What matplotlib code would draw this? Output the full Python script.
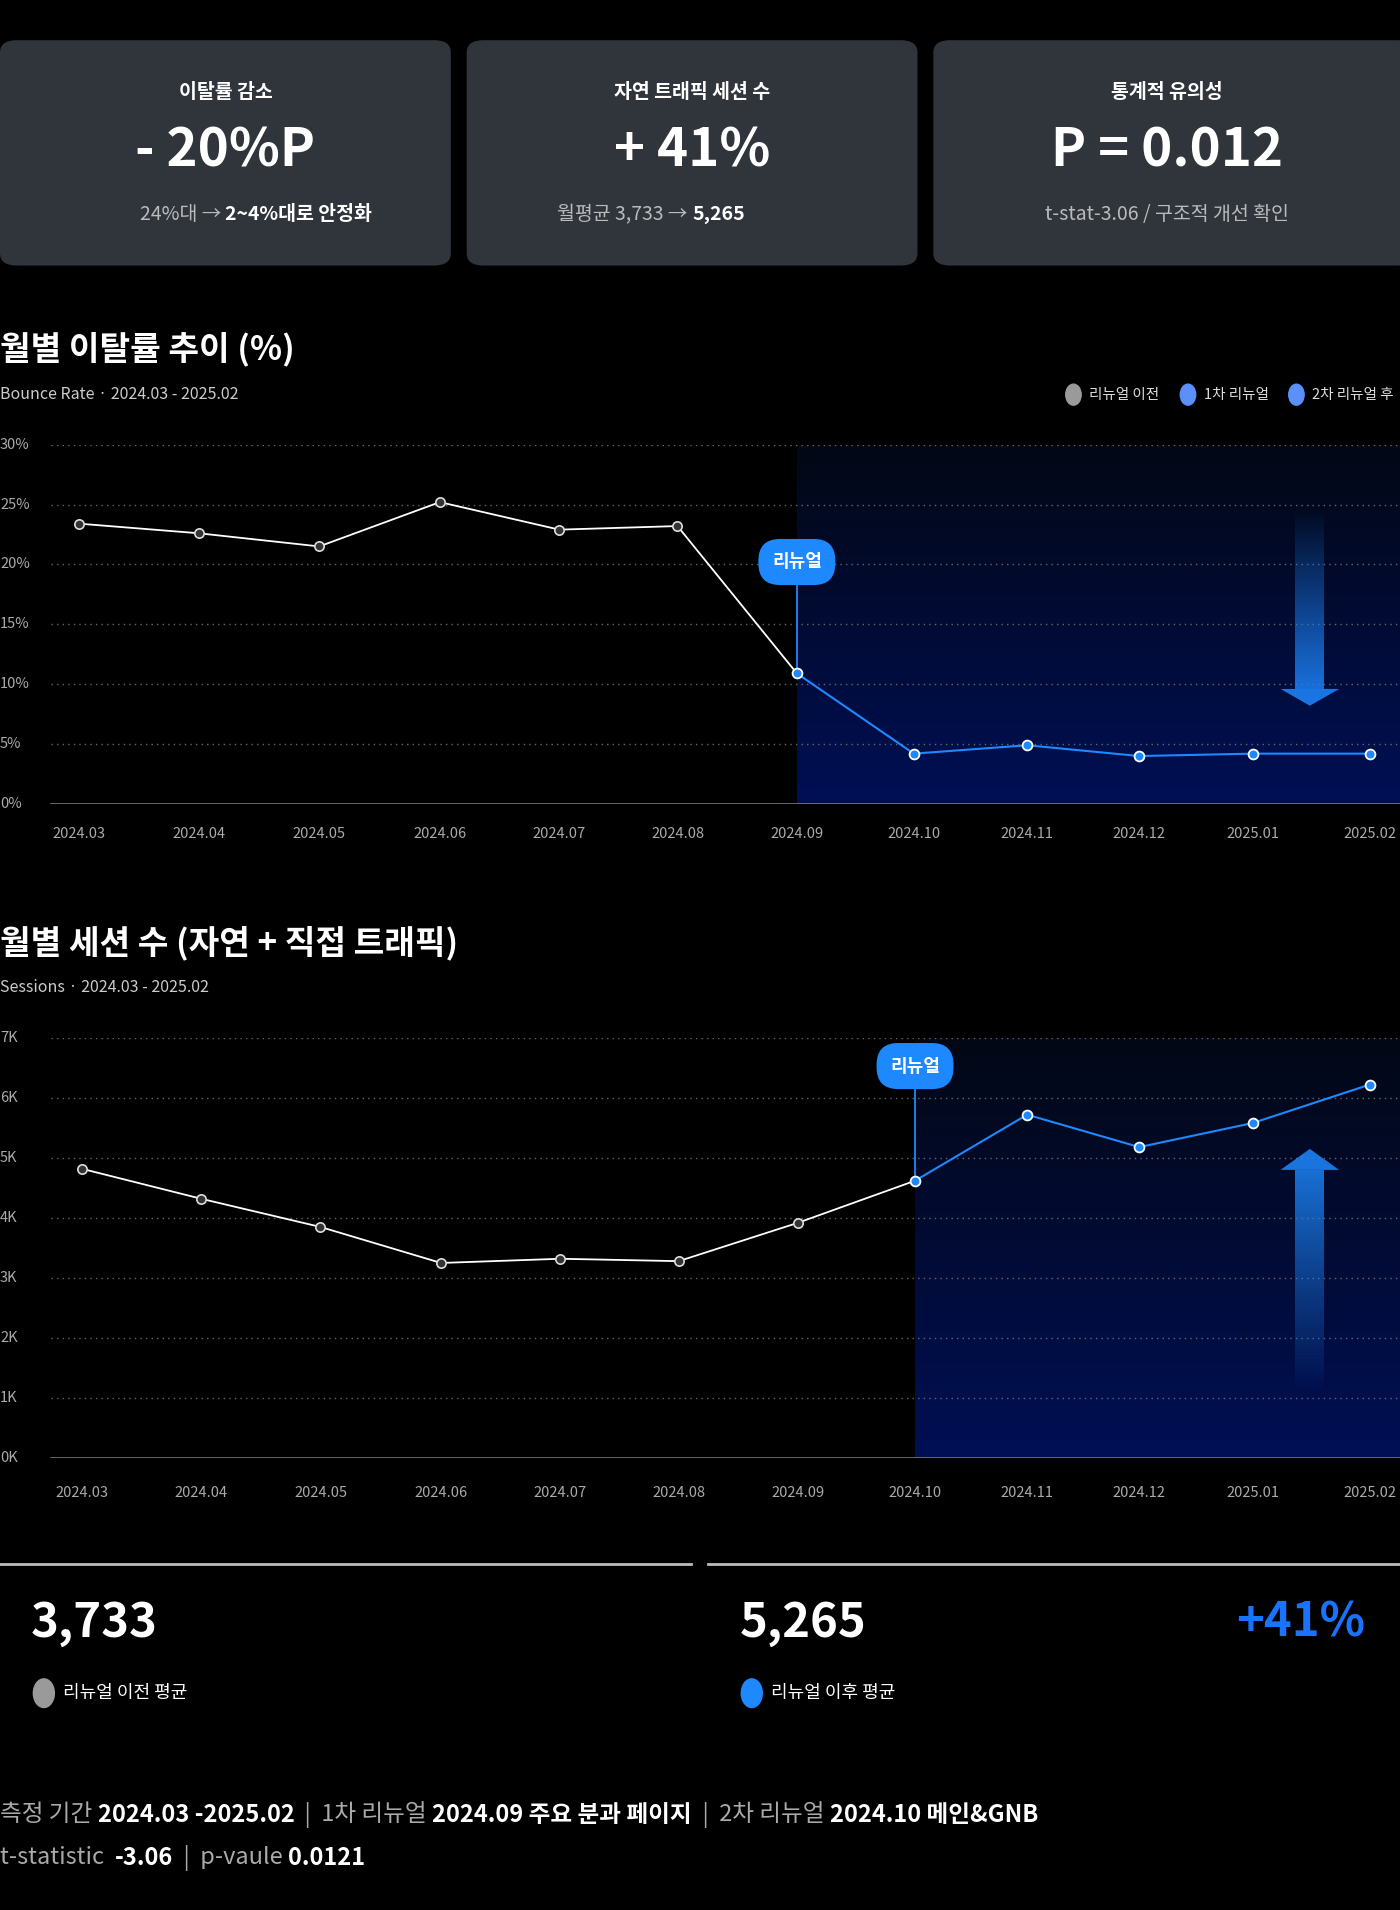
import numpy as np
import matplotlib
matplotlib.use("Agg")
import matplotlib.pyplot as plt
from matplotlib.patches import FancyBboxPatch, Polygon, Rectangle
from matplotlib.colors import LinearSegmentedColormap

plt.rcParams['font.family'] = ['Noto Sans CJK KR', 'DejaVu Sans']

months = ['2024.03', '2024.04', '2024.05', '2024.06', '2024.07', '2024.08',
          '2024.09', '2024.10', '2024.11', '2024.12', '2025.01', '2025.02']
bounce = [23.4, 22.6, 21.5, 25.2, 22.9, 23.2, 10.9, 4.2, 4.9, 4.0, 4.2, 4.2]
sessions = [4820, 4320, 3850, 3250, 3320, 3280, 3920, 4620, 5720, 5180, 5580, 6220]
bounce_renew = 6
session_renew = 7

# month tick positions along the x axis (layout units, the reference spaces them unevenly)
ticks_bounce = [65, 163, 262, 361, 459, 556, 654, 750, 843, 935, 1028, 1124]
ticks_sessions = [67, 165, 263, 362, 460, 557, 655, 751, 843, 935, 1028, 1124]

cards = [('이탈률 감소', '- 20%P', '24%대 → ', '2~4%대로 안정화'),
         ('자연 트래픽 세션 수', '+ 41%', '월평균 3,733 → ', '5,265'),
         ('통계적 유의성', 'P = 0.012', 't-stat-3.06 / 구조적 개선 확인', '')]

BG = '#000000'
BLUE = '#1e88ff'
GREY = '#9a9a9a'
W, H = 1149, 1568  # layout units (scaled to output)

fig = plt.figure(figsize=(14, 19.1), dpi=100, facecolor=BG)


def fx(x):
    return x / W


def fy(y):
    return 1 - y / H


def ftext(x, y, s, **kw):
    kw.setdefault('color', 'white')
    kw.setdefault('va', 'center')
    fig.text(fx(x), fy(y), s, **kw)


# --- KPI cards
card_x = [(0, 370), (383, 753), (766, 1160)]
for (x0, x1), (title, big, sub1, sub2) in zip(card_x, cards):
    fig.patches.append(FancyBboxPatch((fx(x0), fy(218)), fx(x1 - x0), fy(33) - fy(218),
                                      boxstyle='round,pad=0,rounding_size=0.012',
                                      transform=fig.transFigure, facecolor='#30343b',
                                      edgecolor='none', mutation_aspect=W / H * 14 / 19.1))
    cx = (x0 + min(x1, 1149)) / 2
    ftext(cx, 76, title, ha='center', fontsize=14, fontweight='bold')
    ftext(cx, 124, big, ha='center', fontsize=38, fontweight='bold')
    if sub2:
        fig.text(fx(cx), fy(176), sub1, ha='right', va='center', color='#bbbbbb', fontsize=14)
        fig.text(fx(cx), fy(176), sub2, ha='left', va='center', color='white',
                 fontsize=14, fontweight='bold')
    else:
        ftext(cx, 176, sub1, ha='center', color='#bbbbbb', fontsize=14)

grad = LinearSegmentedColormap.from_list('g', [(0.01, 0.03, 0.08, 1), (0.0, 0.06, 0.33, 1)])


def draw_chart(top, bottom, title, subtitle, values, ymax, step, fmt, renew,
               callout_y, tick_pos, arrow, legend):
    ftext(0, top - 78, title, fontsize=24, fontweight='bold', ha='left')
    ftext(0, top - 41, subtitle, fontsize=11.5, color='#cccccc', ha='left')
    if legend:
        for lx, col, lab in [(881, GREY, '리뉴얼 이전'), (975, '#5b8ff9', '1차 리뉴얼'),
                             (1064, '#5b8ff9', '2차 리뉴얼 후')]:
            fig.patches.append(plt.Circle((fx(lx), fy(top - 41)), 0.0055,
                                          transform=fig.transFigure, color=col))
            ftext(lx + 13, top - 41, lab, fontsize=10.5, color='#dddddd', ha='left')
    ax = fig.add_axes([0, fy(bottom), 1, fy(top) - fy(bottom)])
    ax.set_facecolor(BG)
    ax.set_xlim(0, W)
    ax.set_ylim(0, ymax)
    for s in ax.spines.values():
        s.set_visible(False)
    ax.set_xticks([])
    ax.set_yticks([])
    gx = 42
    for v in np.arange(step, ymax + 1e-9, step):
        ax.plot([gx, W], [v, v], color='#666666', lw=1, ls=(0, (1, 3)), zorder=1)
        ax.text(0, v, fmt(v), color='#aaaaaa', fontsize=10.5, va='center', ha='left')
    ax.text(0, 0, fmt(0), color='#aaaaaa', fontsize=10.5, va='center', ha='left')
    ax.plot([gx, W], [0, 0], color='#777777', lw=1.2, zorder=2)
    x = np.array(tick_pos, dtype=float)
    img = np.linspace(0, 1, 200).reshape(-1, 1)
    ax.imshow(img, cmap=grad, extent=[x[renew], W, 0, ymax], aspect='auto',
              origin='upper', zorder=0)
    ax.set_xlim(0, W)
    ax.set_ylim(0, ymax)
    for xi, m in zip(x, months):
        ax.text(xi, -ymax * 0.083, m, color='#aaaaaa', fontsize=10.5, ha='center',
                va='center', clip_on=False)
    ax.plot(x[:renew + 1], values[:renew + 1], color='white', lw=1.3, zorder=3)
    ax.plot(x[renew:], values[renew:], color=BLUE, lw=1.5, zorder=3)
    ax.scatter(x[:renew], values[:renew], s=45, color='#333333', edgecolor='#dddddd',
               lw=1.2, zorder=4)
    ax.scatter(x[renew:], values[renew:], s=50, color=BLUE, edgecolor='white',
               lw=1.3, zorder=4)
    ax.plot([x[renew]] * 2, [values[renew], callout_y], color=BLUE, lw=1.3, zorder=3)
    ax.text(x[renew], callout_y, '리뉴얼', color='white', fontsize=13, fontweight='bold',
            ha='center', va='center', zorder=6,
            bbox=dict(boxstyle='round,pad=0.75,rounding_size=1.2', fc=BLUE, ec='none'))
    # gradient arrow
    ax_x = 1075
    y_tail, y_shaft_end, y_tip = arrow
    hw, sw = 24, 12
    n = 60
    ys = np.linspace(y_tail, y_shaft_end, n + 1)
    for k in range(n):
        a = (k + 1) / n
        ax.add_patch(Rectangle((ax_x - sw, min(ys[k], ys[k + 1])), 2 * sw,
                               abs(ys[k + 1] - ys[k]), color=BLUE, alpha=a * 0.8,
                               lw=0, zorder=2))
    ax.add_patch(Polygon([[ax_x - hw, y_shaft_end], [ax_x + hw, y_shaft_end], [ax_x, y_tip]],
                         color=BLUE, alpha=0.85, lw=0, zorder=2))


draw_chart(365, 660, '월별 이탈률 추이 (%)', 'Bounce Rate · 2024.03 - 2025.02',
           bounce, 30, 5, lambda v: f'{v:.0f}%', bounce_renew, 20.2, ticks_bounce,
           (24.5, 9.6, 8.2), True)
draw_chart(852, 1197, '월별 세션 수 (자연 + 직접 트래픽)', 'Sessions · 2024.03 - 2025.02',
           sessions, 7000, 1000, lambda v: f'{v / 1000:.0f}K', session_renew, 6530,
           ticks_sessions, (1100, 4800, 5150), False)

# --- averages
fig.add_artist(plt.Line2D([0, fx(567)], [fy(1284)] * 2, color='#bbbbbb', lw=2))
fig.add_artist(plt.Line2D([fx(581), 1], [fy(1284)] * 2, color='#bbbbbb', lw=2))
ftext(25, 1332, '3,733', fontsize=34, fontweight='bold', ha='left')
ftext(607, 1332, '5,265', fontsize=34, fontweight='bold', ha='left')
ftext(1120, 1332, '+41%', fontsize=34, fontweight='bold', ha='right', color='#1a73ff')
fig.patches.append(plt.Circle((fx(36), fy(1390)), 0.0075, transform=fig.transFigure, color=GREY))
fig.patches.append(plt.Circle((fx(617), fy(1390)), 0.0075, transform=fig.transFigure, color=BLUE))
ftext(52, 1390, '리뉴얼 이전 평균', fontsize=13, ha='left')
ftext(633, 1390, '리뉴얼 이후 평균', fontsize=13, ha='left')

# --- footer
footer1 = [('측정 기간 ', False), ('2024.03 -2025.02', True), ('  |  1차 리뉴얼 ', False),
           ('2024.09 주요 분과 페이지', True), ('  |  2차 리뉴얼 ', False),
           ('2024.10 메인&GNB', True)]
footer2 = [('t-statistic  ', False), ('-3.06', True), ('  |  p-vaule ', False), ('0.0121', True)]
fig.canvas.draw()
r = fig.canvas.get_renderer()
for y, parts in [(1490, footer1), (1525, footer2)]:
    xpos = 0.0
    for s, b in parts:
        t = fig.text(xpos, fy(y), s, color='white' if b else '#aaaaaa', fontsize=17,
                     fontweight='bold' if b else 'normal', va='center', ha='left')
        bb = t.get_window_extent(renderer=r)
        xpos += bb.width / fig.bbox.width

fig.savefig('out.png', dpi=100, facecolor=BG)
